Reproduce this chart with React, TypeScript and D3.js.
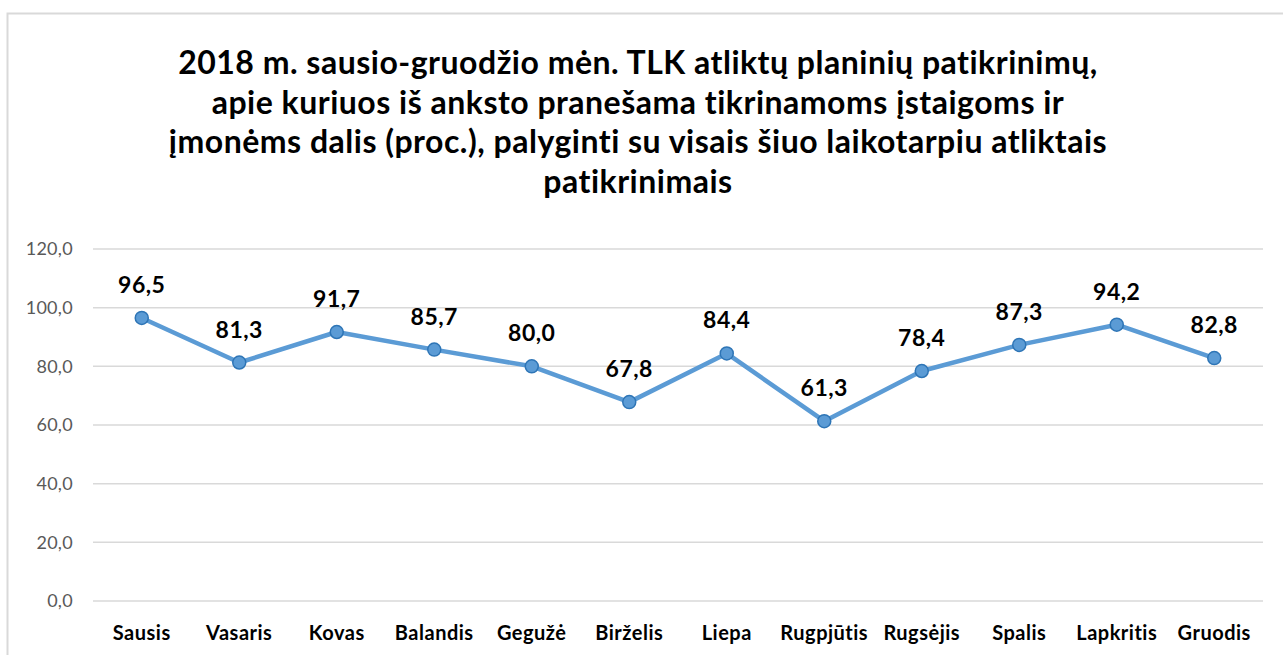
import React, { useEffect, useRef } from "react";
import * as d3 from "d3";

// months (x categories)
const months = ["Sausis", "Vasaris", "Kovas", "Balandis", "Gegužė", "Birželis", "Liepa", "Rugpjūtis", "Rugsėjis", "Spalis", "Lapkritis", "Gruodis"];
// share of planned inspections announced in advance, %
const shares = [96.5, 81.3, 91.7, 85.7, 80.0, 67.8, 84.4, 61.3, 78.4, 87.3, 94.2, 82.8];
const yTicks = [0, 20, 40, 60, 80, 100, 120];
const titleLines = [
  "2018 m. sausio-gruodžio mėn. TLK atliktų planinių patikrinimų,",
  "apie kuriuos iš anksto pranešama tikrinamoms įstaigoms ir",
  "įmonėms dalis (proc.), palyginti su visais šiuo laikotarpiu atliktais",
  "patikrinimais",
];

const W = 1283;
const H = 655;

const App = () => {
  const svgRef = useRef<SVGSVGElement>(null);

  useEffect(() => {
    const svg = d3.select(svgRef.current);
    svg.selectAll("*").remove();

    const font = "Lato, 'Open Sans', sans-serif";
    const margin = { top: 249, right: 20, bottom: 54, left: 93 };
    const fmt = (v: number) => v.toFixed(1).replace(".", ",");

    // outer chart border
    svg.append("rect")
      .attr("x", 7.5).attr("y", 13.5)
      .attr("width", W + 20).attr("height", H + 20)
      .attr("fill", "#fff").attr("stroke", "#d9d9d9").attr("stroke-width", 2);

    // title
    svg.append("g").selectAll("text").data(titleLines).join("text")
      .attr("x", 638)
      .attr("y", (d, i) => 74 + i * 39.5)
      .attr("text-anchor", "middle")
      .attr("font-family", font)
      .attr("font-weight", "bold")
      .attr("font-size", 32)
      .attr("letter-spacing", 0.5)
      .attr("fill", "#000")
      .text(d => d);

    const x = d3.scaleBand().domain(months).range([margin.left, W - margin.right]);
    const y = d3.scaleLinear().domain([0, 120]).range([H - margin.bottom, margin.top]);

    // gridlines
    svg.append("g").selectAll("line").data(yTicks).join("line")
      .attr("x1", margin.left).attr("x2", W - margin.right)
      .attr("y1", d => y(d)).attr("y2", d => y(d))
      .attr("stroke", "#d9d9d9").attr("stroke-width", 1.5);

    // y-axis labels
    svg.append("g").selectAll("text").data(yTicks).join("text")
      .attr("x", 73)
      .attr("y", d => y(d))
      .attr("dy", "0.35em")
      .attr("text-anchor", "end")
      .attr("font-family", font)
      .attr("font-size", 18)
      .attr("letter-spacing", 0.3)
      .attr("fill", "#595959")
      .text(d => fmt(d));

    // x-axis labels
    svg.append("g").selectAll("text").data(months).join("text")
      .attr("x", d => x(d)! + x.bandwidth() / 2)
      .attr("y", 640)
      .attr("text-anchor", "middle")
      .attr("font-family", font)
      .attr("font-weight", "bold")
      .attr("font-size", 20)
      .attr("letter-spacing", 0.5)
      .attr("fill", "#000")
      .text(d => d);

    const cx = (i: number) => x(months[i])! + x.bandwidth() / 2;

    // line
    svg.append("path")
      .datum(shares)
      .attr("fill", "none")
      .attr("stroke", "#5b9bd5")
      .attr("stroke-width", 4.5)
      .attr("stroke-linejoin", "round")
      .attr("d", d3.line<number>().x((d, i) => cx(i)).y(d => y(d)));

    // markers
    svg.append("g").selectAll("circle").data(shares).join("circle")
      .attr("cx", (d, i) => cx(i))
      .attr("cy", d => y(d))
      .attr("r", 6.5)
      .attr("fill", "#5b9bd5")
      .attr("stroke", "#2e75b6")
      .attr("stroke-width", 1.5);

    // data labels
    svg.append("g").selectAll("text").data(shares).join("text")
      .attr("x", (d, i) => cx(i))
      .attr("y", d => y(d) - 25)
      .attr("text-anchor", "middle")
      .attr("font-family", font)
      .attr("font-weight", "bold")
      .attr("font-size", 23)
      .attr("letter-spacing", 0.5)
      .attr("fill", "#000")
      .text(d => fmt(d));
  }, []);

  return <svg ref={svgRef} width={W} height={H} style={{ display: "block", position: "absolute", left: 0, top: 0 }} />;
};

export default App;
